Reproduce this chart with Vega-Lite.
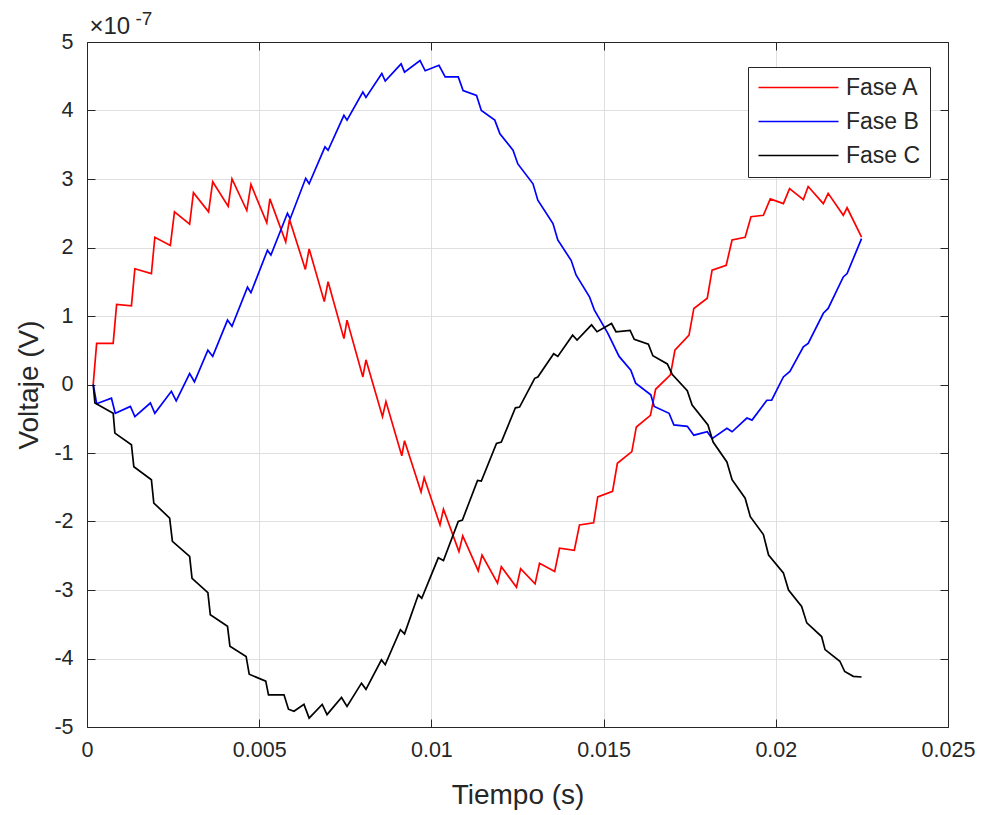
{
  "$schema": "https://vega.github.io/schema/vega-lite/v6.json",
  "autosize": "none",
  "width": 861,
  "height": 685,
  "padding": {"left": 87, "top": 42, "right": 44, "bottom": 88},
  "background": "white",
  "config": {
    "font": "Liberation Sans",
    "view": {"stroke": null},
    "axis": {"labelFont": "Liberation Sans", "titleFont": "Liberation Sans", "labelColor": "#262626", "titleColor": "#262626", "domainColor": "#262626", "tickColor": "#262626", "gridColor": "#dfdfdf", "labelFontSize": 21.5, "titleFontSize": 28, "titleFontWeight": "normal"}
  },
  "data": {"values": [
    {"fase":"Fase A","t":0.00018,"v":0},
    {"fase":"Fase A","t":0.00028,"v":0.6},
    {"fase":"Fase A","t":0.00076,"v":0.6},
    {"fase":"Fase A","t":0.00086,"v":1.17},
    {"fase":"Fase A","t":0.00129,"v":1.15},
    {"fase":"Fase A","t":0.00139,"v":1.69},
    {"fase":"Fase A","t":0.00187,"v":1.62},
    {"fase":"Fase A","t":0.00197,"v":2.15},
    {"fase":"Fase A","t":0.00242,"v":2.03},
    {"fase":"Fase A","t":0.00254,"v":2.52},
    {"fase":"Fase A","t":0.00298,"v":2.34},
    {"fase":"Fase A","t":0.00309,"v":2.8},
    {"fase":"Fase A","t":0.00353,"v":2.52},
    {"fase":"Fase A","t":0.00365,"v":2.96},
    {"fase":"Fase A","t":0.0041,"v":2.6},
    {"fase":"Fase A","t":0.00421,"v":3.0},
    {"fase":"Fase A","t":0.00464,"v":2.54},
    {"fase":"Fase A","t":0.00476,"v":2.92},
    {"fase":"Fase A","t":0.00522,"v":2.36},
    {"fase":"Fase A","t":0.00531,"v":2.71},
    {"fase":"Fase A","t":0.00577,"v":2.08},
    {"fase":"Fase A","t":0.00588,"v":2.41},
    {"fase":"Fase A","t":0.00634,"v":1.68},
    {"fase":"Fase A","t":0.00645,"v":1.98},
    {"fase":"Fase A","t":0.00689,"v":1.21},
    {"fase":"Fase A","t":0.007,"v":1.5},
    {"fase":"Fase A","t":0.00746,"v":0.67},
    {"fase":"Fase A","t":0.00755,"v":0.94},
    {"fase":"Fase A","t":0.00801,"v":0.11},
    {"fase":"Fase A","t":0.0081,"v":0.36},
    {"fase":"Fase A","t":0.00858,"v":-0.47},
    {"fase":"Fase A","t":0.00868,"v":-0.25},
    {"fase":"Fase A","t":0.00914,"v":-1.04},
    {"fase":"Fase A","t":0.00922,"v":-0.82},
    {"fase":"Fase A","t":0.0097,"v":-1.57},
    {"fase":"Fase A","t":0.00979,"v":-1.36},
    {"fase":"Fase A","t":0.01025,"v":-2.05},
    {"fase":"Fase A","t":0.01035,"v":-1.82},
    {"fase":"Fase A","t":0.0108,"v":-2.44},
    {"fase":"Fase A","t":0.01091,"v":-2.21},
    {"fase":"Fase A","t":0.01136,"v":-2.72},
    {"fase":"Fase A","t":0.01147,"v":-2.49},
    {"fase":"Fase A","t":0.01192,"v":-2.9},
    {"fase":"Fase A","t":0.01203,"v":-2.66},
    {"fase":"Fase A","t":0.01247,"v":-2.96},
    {"fase":"Fase A","t":0.01259,"v":-2.69},
    {"fase":"Fase A","t":0.01301,"v":-2.91},
    {"fase":"Fase A","t":0.01314,"v":-2.61},
    {"fase":"Fase A","t":0.01358,"v":-2.73},
    {"fase":"Fase A","t":0.01372,"v":-2.39},
    {"fase":"Fase A","t":0.01415,"v":-2.42},
    {"fase":"Fase A","t":0.0143,"v":-2.05},
    {"fase":"Fase A","t":0.01471,"v":-2.02},
    {"fase":"Fase A","t":0.01483,"v":-1.64},
    {"fase":"Fase A","t":0.01526,"v":-1.56},
    {"fase":"Fase A","t":0.0154,"v":-1.15},
    {"fase":"Fase A","t":0.01582,"v":-0.98},
    {"fase":"Fase A","t":0.01595,"v":-0.62},
    {"fase":"Fase A","t":0.01636,"v":-0.45},
    {"fase":"Fase A","t":0.01651,"v":-0.07},
    {"fase":"Fase A","t":0.01694,"v":0.14},
    {"fase":"Fase A","t":0.01707,"v":0.5},
    {"fase":"Fase A","t":0.01748,"v":0.72},
    {"fase":"Fase A","t":0.01762,"v":1.11},
    {"fase":"Fase A","t":0.01801,"v":1.26},
    {"fase":"Fase A","t":0.01815,"v":1.67},
    {"fase":"Fase A","t":0.01856,"v":1.74},
    {"fase":"Fase A","t":0.01873,"v":2.11},
    {"fase":"Fase A","t":0.01911,"v":2.15},
    {"fase":"Fase A","t":0.01928,"v":2.45},
    {"fase":"Fase A","t":0.01964,"v":2.47},
    {"fase":"Fase A","t":0.01984,"v":2.71},
    {"fase":"Fase A","t":0.02022,"v":2.64},
    {"fase":"Fase A","t":0.0204,"v":2.86},
    {"fase":"Fase A","t":0.0208,"v":2.7},
    {"fase":"Fase A","t":0.02094,"v":2.89},
    {"fase":"Fase A","t":0.02138,"v":2.64},
    {"fase":"Fase A","t":0.02152,"v":2.79},
    {"fase":"Fase A","t":0.02196,"v":2.47},
    {"fase":"Fase A","t":0.02207,"v":2.58},
    {"fase":"Fase A","t":0.02249,"v":2.15},
    {"fase":"Fase B","t":0.00018,"v":0},
    {"fase":"Fase B","t":0.00028,"v":-0.28},
    {"fase":"Fase B","t":0.00071,"v":-0.2},
    {"fase":"Fase B","t":0.00082,"v":-0.42},
    {"fase":"Fase B","t":0.00126,"v":-0.32},
    {"fase":"Fase B","t":0.00139,"v":-0.47},
    {"fase":"Fase B","t":0.00184,"v":-0.27},
    {"fase":"Fase B","t":0.00197,"v":-0.42},
    {"fase":"Fase B","t":0.00245,"v":-0.1},
    {"fase":"Fase B","t":0.00259,"v":-0.24},
    {"fase":"Fase B","t":0.00298,"v":0.16},
    {"fase":"Fase B","t":0.00312,"v":0.04},
    {"fase":"Fase B","t":0.00351,"v":0.5},
    {"fase":"Fase B","t":0.00365,"v":0.41},
    {"fase":"Fase B","t":0.00408,"v":0.94},
    {"fase":"Fase B","t":0.00421,"v":0.85},
    {"fase":"Fase B","t":0.00466,"v":1.42},
    {"fase":"Fase B","t":0.00476,"v":1.34},
    {"fase":"Fase B","t":0.00524,"v":1.96},
    {"fase":"Fase B","t":0.00534,"v":1.89},
    {"fase":"Fase B","t":0.00582,"v":2.5},
    {"fase":"Fase B","t":0.0059,"v":2.42},
    {"fase":"Fase B","t":0.00635,"v":3.01},
    {"fase":"Fase B","t":0.00645,"v":2.93},
    {"fase":"Fase B","t":0.00691,"v":3.47},
    {"fase":"Fase B","t":0.007,"v":3.42},
    {"fase":"Fase B","t":0.00746,"v":3.93},
    {"fase":"Fase B","t":0.00755,"v":3.86},
    {"fase":"Fase B","t":0.00801,"v":4.27},
    {"fase":"Fase B","t":0.0081,"v":4.19},
    {"fase":"Fase B","t":0.00856,"v":4.54},
    {"fase":"Fase B","t":0.00866,"v":4.43},
    {"fase":"Fase B","t":0.00912,"v":4.68},
    {"fase":"Fase B","t":0.00922,"v":4.56},
    {"fase":"Fase B","t":0.00967,"v":4.73},
    {"fase":"Fase B","t":0.00982,"v":4.58},
    {"fase":"Fase B","t":0.01022,"v":4.66},
    {"fase":"Fase B","t":0.0104,"v":4.49},
    {"fase":"Fase B","t":0.01078,"v":4.49},
    {"fase":"Fase B","t":0.01092,"v":4.29},
    {"fase":"Fase B","t":0.01131,"v":4.22},
    {"fase":"Fase B","t":0.01145,"v":4.0},
    {"fase":"Fase B","t":0.01184,"v":3.86},
    {"fase":"Fase B","t":0.01199,"v":3.66},
    {"fase":"Fase B","t":0.01237,"v":3.42},
    {"fase":"Fase B","t":0.01251,"v":3.22},
    {"fase":"Fase B","t":0.01295,"v":2.93},
    {"fase":"Fase B","t":0.01309,"v":2.69},
    {"fase":"Fase B","t":0.01353,"v":2.35},
    {"fase":"Fase B","t":0.01367,"v":2.11},
    {"fase":"Fase B","t":0.01406,"v":1.81},
    {"fase":"Fase B","t":0.0142,"v":1.6},
    {"fase":"Fase B","t":0.01459,"v":1.28},
    {"fase":"Fase B","t":0.01473,"v":1.09},
    {"fase":"Fase B","t":0.01512,"v":0.75},
    {"fase":"Fase B","t":0.01545,"v":0.41},
    {"fase":"Fase B","t":0.01579,"v":0.21},
    {"fase":"Fase B","t":0.01593,"v":0.02},
    {"fase":"Fase B","t":0.01637,"v":-0.15},
    {"fase":"Fase B","t":0.01647,"v":-0.32},
    {"fase":"Fase B","t":0.0169,"v":-0.42},
    {"fase":"Fase B","t":0.01704,"v":-0.59},
    {"fase":"Fase B","t":0.01743,"v":-0.61},
    {"fase":"Fase B","t":0.01762,"v":-0.74},
    {"fase":"Fase B","t":0.01801,"v":-0.69},
    {"fase":"Fase B","t":0.01815,"v":-0.79},
    {"fase":"Fase B","t":0.01858,"v":-0.64},
    {"fase":"Fase B","t":0.01873,"v":-0.69},
    {"fase":"Fase B","t":0.01916,"v":-0.49},
    {"fase":"Fase B","t":0.01931,"v":-0.52},
    {"fase":"Fase B","t":0.01974,"v":-0.23},
    {"fase":"Fase B","t":0.01988,"v":-0.23},
    {"fase":"Fase B","t":0.02022,"v":0.11},
    {"fase":"Fase B","t":0.02041,"v":0.19},
    {"fase":"Fase B","t":0.0208,"v":0.55},
    {"fase":"Fase B","t":0.02094,"v":0.6},
    {"fase":"Fase B","t":0.02138,"v":1.04},
    {"fase":"Fase B","t":0.02152,"v":1.11},
    {"fase":"Fase B","t":0.02196,"v":1.57},
    {"fase":"Fase B","t":0.02207,"v":1.62},
    {"fase":"Fase B","t":0.02249,"v":2.13},
    {"fase":"Fase C","t":0.00018,"v":0},
    {"fase":"Fase C","t":0.00023,"v":-0.27},
    {"fase":"Fase C","t":0.00076,"v":-0.42},
    {"fase":"Fase C","t":0.00081,"v":-0.71},
    {"fase":"Fase C","t":0.00129,"v":-0.88},
    {"fase":"Fase C","t":0.00136,"v":-1.2},
    {"fase":"Fase C","t":0.00187,"v":-1.39},
    {"fase":"Fase C","t":0.00194,"v":-1.73},
    {"fase":"Fase C","t":0.0024,"v":-1.95},
    {"fase":"Fase C","t":0.00248,"v":-2.29},
    {"fase":"Fase C","t":0.00298,"v":-2.51},
    {"fase":"Fase C","t":0.00305,"v":-2.83},
    {"fase":"Fase C","t":0.00351,"v":-3.04},
    {"fase":"Fase C","t":0.00358,"v":-3.36},
    {"fase":"Fase C","t":0.00408,"v":-3.53},
    {"fase":"Fase C","t":0.00415,"v":-3.82},
    {"fase":"Fase C","t":0.00462,"v":-3.97},
    {"fase":"Fase C","t":0.00471,"v":-4.23},
    {"fase":"Fase C","t":0.00519,"v":-4.33},
    {"fase":"Fase C","t":0.00527,"v":-4.53},
    {"fase":"Fase C","t":0.00572,"v":-4.53},
    {"fase":"Fase C","t":0.00585,"v":-4.74},
    {"fase":"Fase C","t":0.00601,"v":-4.77},
    {"fase":"Fase C","t":0.0063,"v":-4.67},
    {"fase":"Fase C","t":0.00645,"v":-4.87},
    {"fase":"Fase C","t":0.00683,"v":-4.67},
    {"fase":"Fase C","t":0.00697,"v":-4.82},
    {"fase":"Fase C","t":0.00739,"v":-4.57},
    {"fase":"Fase C","t":0.00755,"v":-4.7},
    {"fase":"Fase C","t":0.00797,"v":-4.36},
    {"fase":"Fase C","t":0.0081,"v":-4.45},
    {"fase":"Fase C","t":0.00855,"v":-4.02},
    {"fase":"Fase C","t":0.00866,"v":-4.09},
    {"fase":"Fase C","t":0.0091,"v":-3.58},
    {"fase":"Fase C","t":0.00922,"v":-3.64},
    {"fase":"Fase C","t":0.00962,"v":-3.07},
    {"fase":"Fase C","t":0.00972,"v":-3.12},
    {"fase":"Fase C","t":0.0102,"v":-2.53},
    {"fase":"Fase C","t":0.01035,"v":-2.57},
    {"fase":"Fase C","t":0.01078,"v":-2.0},
    {"fase":"Fase C","t":0.0109,"v":-1.98},
    {"fase":"Fase C","t":0.01134,"v":-1.4},
    {"fase":"Fase C","t":0.01145,"v":-1.41},
    {"fase":"Fase C","t":0.01189,"v":-0.86},
    {"fase":"Fase C","t":0.01203,"v":-0.84},
    {"fase":"Fase C","t":0.01244,"v":-0.34},
    {"fase":"Fase C","t":0.01256,"v":-0.33},
    {"fase":"Fase C","t":0.013,"v":0.09},
    {"fase":"Fase C","t":0.01309,"v":0.11},
    {"fase":"Fase C","t":0.01355,"v":0.45},
    {"fase":"Fase C","t":0.01367,"v":0.41},
    {"fase":"Fase C","t":0.0141,"v":0.72},
    {"fase":"Fase C","t":0.01423,"v":0.65},
    {"fase":"Fase C","t":0.01465,"v":0.87},
    {"fase":"Fase C","t":0.01481,"v":0.77},
    {"fase":"Fase C","t":0.01523,"v":0.89},
    {"fase":"Fase C","t":0.01536,"v":0.77},
    {"fase":"Fase C","t":0.01577,"v":0.79},
    {"fase":"Fase C","t":0.01589,"v":0.66},
    {"fase":"Fase C","t":0.0163,"v":0.59},
    {"fase":"Fase C","t":0.01643,"v":0.42},
    {"fase":"Fase C","t":0.01685,"v":0.3},
    {"fase":"Fase C","t":0.01699,"v":0.15},
    {"fase":"Fase C","t":0.01743,"v":-0.09},
    {"fase":"Fase C","t":0.01757,"v":-0.3},
    {"fase":"Fase C","t":0.01803,"v":-0.59},
    {"fase":"Fase C","t":0.01818,"v":-0.84},
    {"fase":"Fase C","t":0.01858,"v":-1.13},
    {"fase":"Fase C","t":0.01873,"v":-1.39},
    {"fase":"Fase C","t":0.01911,"v":-1.66},
    {"fase":"Fase C","t":0.01926,"v":-1.93},
    {"fase":"Fase C","t":0.01964,"v":-2.19},
    {"fase":"Fase C","t":0.01979,"v":-2.49},
    {"fase":"Fase C","t":0.02022,"v":-2.75},
    {"fase":"Fase C","t":0.02037,"v":-3.0},
    {"fase":"Fase C","t":0.02075,"v":-3.24},
    {"fase":"Fase C","t":0.0209,"v":-3.48},
    {"fase":"Fase C","t":0.02133,"v":-3.68},
    {"fase":"Fase C","t":0.02143,"v":-3.87},
    {"fase":"Fase C","t":0.02186,"v":-4.04},
    {"fase":"Fase C","t":0.022,"v":-4.19},
    {"fase":"Fase C","t":0.02225,"v":-4.26},
    {"fase":"Fase C","t":0.02249,"v":-4.27}
  ]},
  "layer": [
    {
      "mark": {"type": "line", "strokeWidth": 1.7},
      "encoding": {
        "x": {"field": "t", "type": "quantitative", "title": "Tiempo (s)",
              "scale": {"domain": [0, 0.025], "nice": false, "zero": false},
              "axis": {"orient": "bottom", "values": [0, 0.005, 0.01, 0.015, 0.02, 0.025], "labelExpr": "'' + datum.value", "tickSize": -8, "labelPadding": 20, "titlePadding": 21, "grid": true, "labelFlush": false}},
        "y": {"field": "v", "type": "quantitative", "title": "Voltaje (V)",
              "scale": {"domain": [-5, 5], "nice": false, "zero": false},
              "axis": {"orient": "left", "values": [-5, -4, -3, -2, -1, 0, 1, 2, 3, 4, 5], "labelExpr": "'' + datum.value", "tickSize": -8, "labelPadding": 22, "titlePadding": 10, "grid": true, "labelFlush": false}},
        "color": {"field": "fase", "type": "nominal",
                  "scale": {"domain": ["Fase A", "Fase B", "Fase C"], "range": ["#ff0000", "#0000ff", "#000000"]},
                  "legend": {"orient": "none", "legendX": 661, "legendY": 25, "title": null, "symbolType": "M-1,0H7", "symbolSize": 400, "symbolStrokeWidth": 1.5, "symbolFillColor": "transparent", "labelFontSize": 23, "labelFont": "Liberation Sans", "labelColor": "#262626", "strokeColor": "#262626", "fillColor": "white", "padding": 9, "labelOffset": 66, "rowPadding": 10}}
      }
    },
    {
      "mark": {"type": "point", "opacity": 0},
      "encoding": {
        "x": {"field": "t", "type": "quantitative",
              "axis": {"orient": "top", "values": [0, 0.005, 0.01, 0.015, 0.02, 0.025], "labels": false, "title": "-7", "titleFontSize": 19, "titleX": 48, "titleY": -18, "titleAngle": 0, "titleAlign": "left", "titleBaseline": "alphabetic", "tickSize": -8, "grid": false}},
        "y": {"field": "v", "type": "quantitative",
              "axis": {"orient": "right", "values": [-5, -4, -3, -2, -1, 0, 1, 2, 3, 4, 5], "labels": false, "title": "×10", "titleFontSize": 24, "titleX": -859, "titleY": -9, "titleAngle": 0, "titleAlign": "left", "titleBaseline": "alphabetic", "tickSize": -8, "grid": false}}
      }
    }
  ],
  "resolve": {"axis": {"x": "independent", "y": "independent"}}
}
